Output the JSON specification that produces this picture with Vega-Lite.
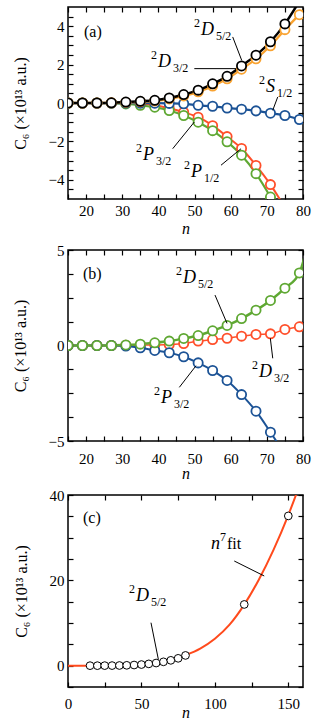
{
"$schema":"https://vega.github.io/schema/vega-lite/v6.json",
"padding":{"left":11,"top":5,"right":5,"bottom":5},
"spacing":5,
"resolve":{"scale":{"color":"independent","strokeWidth":"independent"}},
"config":{
 "font":"Liberation Serif",
 "view":{"stroke":"black","strokeWidth":1.5},
 "axis":{"labelFont":"Liberation Serif","labelFontSize":15,"labelColor":"black","titleFont":"Liberation Serif","titleFontSize":16,"titleFontWeight":"normal","titleColor":"black","domain":false,"grid":false,"tickColor":"black","tickSize":-5,"tickWidth":1.2,"labelPadding":9,"labelFlush":false,"labelOverlap":false,"minExtent":0},
 "text":{"font":"Liberation Serif","fill":"black","baseline":"alphabetic"}
},
"datasets":{
 "a":[
  {"s":"P1","n":15,"v":0},{"s":"P1","n":19,"v":0},{"s":"P1","n":23,"v":0},{"s":"P1","n":27,"v":0},{"s":"P1","n":31,"v":-0.01},{"s":"P1","n":35,"v":-0.05},{"s":"P1","n":39,"v":-0.12},{"s":"P1","n":43,"v":-0.27},{"s":"P1","n":47,"v":-0.48},{"s":"P1","n":51,"v":-0.74},{"s":"P1","n":55,"v":-1.18},{"s":"P1","n":59,"v":-1.75},{"s":"P1","n":63,"v":-2.37},{"s":"P1","n":67,"v":-3.25},{"s":"P1","n":71,"v":-4.25},{"s":"P1","n":75,"v":-5.45},
  {"s":"P3","n":15,"v":0},{"s":"P3","n":19,"v":0},{"s":"P3","n":23,"v":0},{"s":"P3","n":27,"v":-0.01},{"s":"P3","n":31,"v":-0.05},{"s":"P3","n":35,"v":-0.12},{"s":"P3","n":39,"v":-0.22},{"s":"P3","n":43,"v":-0.39},{"s":"P3","n":47,"v":-0.65},{"s":"P3","n":51,"v":-1.0},{"s":"P3","n":55,"v":-1.44},{"s":"P3","n":59,"v":-2.02},{"s":"P3","n":63,"v":-2.72},{"s":"P3","n":67,"v":-3.68},{"s":"P3","n":71,"v":-4.9},{"s":"P3","n":75,"v":-6.3},
  {"s":"S1","n":15,"v":0},{"s":"S1","n":19,"v":0},{"s":"S1","n":23,"v":0},{"s":"S1","n":27,"v":0},{"s":"S1","n":31,"v":0},{"s":"S1","n":35,"v":-0.01},{"s":"S1","n":39,"v":-0.01},{"s":"S1","n":43,"v":-0.02},{"s":"S1","n":47,"v":-0.04},{"s":"S1","n":51,"v":-0.12},{"s":"S1","n":55,"v":-0.17},{"s":"S1","n":59,"v":-0.26},{"s":"S1","n":63,"v":-0.32},{"s":"S1","n":67,"v":-0.41},{"s":"S1","n":71,"v":-0.53},{"s":"S1","n":75,"v":-0.65},{"s":"S1","n":79,"v":-0.86},{"s":"S1","n":83,"v":-1.2},
  {"s":"D3","n":15,"v":0},{"s":"D3","n":19,"v":0},{"s":"D3","n":23,"v":0},{"s":"D3","n":27,"v":0.01},{"s":"D3","n":31,"v":0.03},{"s":"D3","n":35,"v":0.06},{"s":"D3","n":39,"v":0.11},{"s":"D3","n":43,"v":0.21},{"s":"D3","n":47,"v":0.37},{"s":"D3","n":51,"v":0.58},{"s":"D3","n":55,"v":0.88},{"s":"D3","n":59,"v":1.26},{"s":"D3","n":63,"v":1.76},{"s":"D3","n":67,"v":2.3},{"s":"D3","n":71,"v":2.98},{"s":"D3","n":75,"v":3.82},{"s":"D3","n":79,"v":4.6},
  {"s":"D5","n":15,"v":0},{"s":"D5","n":19,"v":0},{"s":"D5","n":23,"v":0},{"s":"D5","n":27,"v":0.01},{"s":"D5","n":31,"v":0.05},{"s":"D5","n":35,"v":0.09},{"s":"D5","n":39,"v":0.14},{"s":"D5","n":43,"v":0.26},{"s":"D5","n":47,"v":0.44},{"s":"D5","n":51,"v":0.67},{"s":"D5","n":55,"v":1.0},{"s":"D5","n":59,"v":1.39},{"s":"D5","n":63,"v":1.93},{"s":"D5","n":67,"v":2.49},{"s":"D5","n":71,"v":3.19},{"s":"D5","n":75,"v":4.12},{"s":"D5","n":79,"v":5.3}
 ],
 "b":[
  {"s":"D3","n":15,"v":0},{"s":"D3","n":19,"v":0},{"s":"D3","n":23,"v":0},{"s":"D3","n":27,"v":0},{"s":"D3","n":31,"v":0.01},{"s":"D3","n":35,"v":0.02},{"s":"D3","n":39,"v":0.03},{"s":"D3","n":43,"v":0.05},{"s":"D3","n":47,"v":0.1},{"s":"D3","n":51,"v":0.23},{"s":"D3","n":55,"v":0.31},{"s":"D3","n":59,"v":0.38},{"s":"D3","n":63,"v":0.49},{"s":"D3","n":67,"v":0.58},{"s":"D3","n":71,"v":0.61},{"s":"D3","n":75,"v":0.84},{"s":"D3","n":79,"v":0.98},
  {"s":"P3","n":15,"v":0},{"s":"P3","n":19,"v":0},{"s":"P3","n":23,"v":0},{"s":"P3","n":27,"v":0},{"s":"P3","n":31,"v":-0.03},{"s":"P3","n":35,"v":-0.12},{"s":"P3","n":39,"v":-0.26},{"s":"P3","n":43,"v":-0.38},{"s":"P3","n":47,"v":-0.59},{"s":"P3","n":51,"v":-0.91},{"s":"P3","n":55,"v":-1.31},{"s":"P3","n":59,"v":-1.83},{"s":"P3","n":63,"v":-2.57},{"s":"P3","n":67,"v":-3.44},{"s":"P3","n":71,"v":-4.54},{"s":"P3","n":75,"v":-5.7},
  {"s":"D5","n":15,"v":0},{"s":"D5","n":19,"v":0},{"s":"D5","n":23,"v":0},{"s":"D5","n":27,"v":0},{"s":"D5","n":31,"v":0.03},{"s":"D5","n":35,"v":0.07},{"s":"D5","n":39,"v":0.14},{"s":"D5","n":43,"v":0.23},{"s":"D5","n":47,"v":0.37},{"s":"D5","n":51,"v":0.52},{"s":"D5","n":55,"v":0.77},{"s":"D5","n":59,"v":1.05},{"s":"D5","n":63,"v":1.41},{"s":"D5","n":67,"v":1.85},{"s":"D5","n":71,"v":2.36},{"s":"D5","n":75,"v":3.0},{"s":"D5","n":79,"v":3.8},{"s":"D5","n":83,"v":6.8}
 ],
 "c_pts":[
  {"n":15,"v":0},{"n":20,"v":0},{"n":25,"v":0.01},{"n":30,"v":0.02},{"n":35,"v":0.04},{"n":40,"v":0.08},{"n":45,"v":0.15},{"n":50,"v":0.26},{"n":55,"v":0.42},{"n":60,"v":0.62},{"n":65,"v":0.9},{"n":70,"v":1.25},{"n":75,"v":1.72},{"n":80,"v":2.4},{"n":120,"v":14.35},{"n":150,"v":35.1}
 ],
 "c_fit":[
  {"n":0,"v":0},{"n":10,"v":0},{"n":20,"v":0},{"n":30,"v":0.01},{"n":40,"v":0.06},{"n":50,"v":0.2},{"n":60,"v":0.55},{"n":70,"v":1.25},{"n":80,"v":2.45},{"n":90,"v":4.0},{"n":100,"v":6.3},{"n":110,"v":9.6},{"n":120,"v":14.3},{"n":130,"v":20.2},{"n":140,"v":27.2},{"n":150,"v":35.3},{"n":160,"v":44.5}
 ],
 "lead":[
  {"p":"a","n":60.56,"v":3.44,"n2":63.05,"v2":2.22},
  {"p":"a","n":49.94,"v":1.79,"n2":61.47,"v2":1.79},
  {"p":"a","n":73.0,"v":0.31,"n2":71.63,"v2":-0.38},
  {"p":"a","n":43.96,"v":-2.38,"n2":49.94,"v2":-0.99},
  {"p":"a","n":57.32,"v":-3.24,"n2":62.86,"v2":-2.38},
  {"p":"b","n":55.66,"v":2.64,"n2":58.98,"v2":1.16},
  {"p":"b","n":71.63,"v":-0.67,"n2":70.96,"v2":0.38},
  {"p":"b","n":45.79,"v":-2.19,"n2":50.41,"v2":-1.06},
  {"p":"c","n":113.2,"v":24.53,"n2":133.6,"v2":21.02},
  {"p":"c","n":56.5,"v":10.07,"n2":61.5,"v2":1.5}
 ],
 "ann":[
  {"p":"a","sup":"2","L":"D","sub":"5/2","n":51.79,"v":3.54},
  {"p":"a","sup":"2","L":"D","sub":"3/2","n":39.9,"v":1.875},
  {"p":"a","sup":"2","L":"S","sub":"1/2","n":69.77,"v":0.573},
  {"p":"a","sup":"2","L":"P","sub":"3/2","n":35.75,"v":-2.97},
  {"p":"a","sup":"2","L":"P","sub":"1/2","n":49.02,"v":-3.85},
  {"p":"b","sup":"2","L":"D","sub":"5/2","n":46.81,"v":3.27},
  {"p":"b","sup":"2","L":"D","sub":"3/2","n":67.84,"v":-1.65},
  {"p":"b","sup":"2","L":"P","sub":"3/2","n":40.73,"v":-3.01},
  {"p":"c","sup":"2","L":"D","sub":"5/2","n":46.3,"v":15.16}
 ],
 "plab":[
  {"p":"a","t":"(a)","n":19.43,"v":3.44},
  {"p":"b","t":"(b)","n":19.15,"v":3.48},
  {"p":"c","t":"(c)","n":10.2,"v":33.44}
 ],
 "fitlab":[{"n":97.3,"v":27.35}]
},
"vconcat":[
 {
  "width":235,"height":192,
  "resolve":{"axis":{"x":"independent","y":"independent"}},
  "layer":[
   {"data":{"name":"a"},"mark":{"type":"line","clip":true,"interpolate":"monotone"},
    "encoding":{
     "x":{"field":"n","type":"quantitative","scale":{"domain":[15,80],"nice":false,"zero":false},"axis":{"orient":"bottom","values":[15,20,25,30,35,40,45,50,55,60,65,70,75,80],"labelExpr":"datum.value % 10 == 0 ? format(datum.value, '~g') : ''","title":"n","titleFontStyle":"italic","titlePadding":2}},
     "y":{"field":"v","type":"quantitative","scale":{"domain":[-5,5],"nice":false},"axis":{"orient":"left","values":[-4.5,-4,-3.5,-3,-2.5,-2,-1.5,-1,-0.5,0,0.5,1,1.5,2,2.5,3,3.5,4,4.5],"labelExpr":"datum.value % 2 == 0 ? format(datum.value, '~g') : ''","title":"C₆  (×10¹³ a.u.)","titlePadding":20}},
     "color":{"field":"s","type":"nominal","scale":{"domain":["P1","P3","S1","D3","D5"],"range":["#FF4F2A","#5FA833","#1C5396","#F9A331","#000000"]},"legend":null},
     "strokeWidth":{"field":"s","type":"ordinal","scale":{"domain":["P1","P3","S1","D3","D5"],"range":[2,2.5,2,1.5,1]},"legend":null}
    }},
   {"data":{"name":"a"},"mark":{"type":"point","filled":false,"fill":"white","size":85,"strokeWidth":1.8,"opacity":1,"clip":true},
    "encoding":{
     "x":{"field":"n","type":"quantitative","axis":null},
     "y":{"field":"v","type":"quantitative","axis":null},
     "color":{"field":"s","type":"nominal","legend":null}
    }},
   {"data":{"name":"lead"},"transform":[{"filter":"datum.p == 'a'"}],"mark":{"type":"rule","color":"black","strokeWidth":1},
    "encoding":{"x":{"field":"n","type":"quantitative","axis":null},"y":{"field":"v","type":"quantitative","axis":null},"x2":{"field":"n2"},"y2":{"field":"v2"}}},
   {"data":{"name":"ann"},"transform":[{"filter":"datum.p == 'a'"}],"mark":{"type":"text","align":"right","dx":-1,"dy":-8,"fontSize":12},
    "encoding":{"x":{"field":"n","type":"quantitative","axis":null},"y":{"field":"v","type":"quantitative","axis":null},"text":{"field":"sup"}}},
   {"data":{"name":"ann"},"transform":[{"filter":"datum.p == 'a'"}],"mark":{"type":"text","align":"left","fontSize":18,"fontStyle":"italic"},
    "encoding":{"x":{"field":"n","type":"quantitative","axis":null},"y":{"field":"v","type":"quantitative","axis":null},"text":{"field":"L"}}},
   {"data":{"name":"ann"},"transform":[{"filter":"datum.p == 'a' && datum.L == 'D'"}],"mark":{"type":"text","align":"left","dx":15,"dy":5,"fontSize":12},
    "encoding":{"x":{"field":"n","type":"quantitative","axis":null},"y":{"field":"v","type":"quantitative","axis":null},"text":{"field":"sub"}}},
   {"data":{"name":"ann"},"transform":[{"filter":"datum.p == 'a' && datum.L == 'P'"}],"mark":{"type":"text","align":"left","dx":13,"dy":5,"fontSize":12},
    "encoding":{"x":{"field":"n","type":"quantitative","axis":null},"y":{"field":"v","type":"quantitative","axis":null},"text":{"field":"sub"}}},
   {"data":{"name":"ann"},"transform":[{"filter":"datum.p == 'a' && datum.L == 'S'"}],"mark":{"type":"text","align":"left","dx":11,"dy":5,"fontSize":12},
    "encoding":{"x":{"field":"n","type":"quantitative","axis":null},"y":{"field":"v","type":"quantitative","axis":null},"text":{"field":"sub"}}},
   {"data":{"name":"plab"},"transform":[{"filter":"datum.p == 'a'"}],"mark":{"type":"text","align":"left","fontSize":16},
    "encoding":{"x":{"field":"n","type":"quantitative","axis":null},"y":{"field":"v","type":"quantitative","axis":null},"text":{"field":"t"}}},
   {"data":{"name":"a"},"mark":{"type":"point","opacity":0,"clip":true},
    "encoding":{
     "x":{"field":"n","type":"quantitative","axis":{"orient":"top","labels":false,"title":null,"values":[15,20,25,30,35,40,45,50,55,60,65,70,75,80]}},
     "y":{"field":"v","type":"quantitative","axis":{"orient":"right","labels":false,"title":null,"values":[-4.5,-4,-3.5,-3,-2.5,-2,-1.5,-1,-0.5,0,0.5,1,1.5,2,2.5,3,3.5,4,4.5]}}
    }}
  ]
 },
 {
  "width":235,"height":191,
  "resolve":{"axis":{"x":"independent","y":"independent"}},
  "layer":[
   {"data":{"name":"b"},"mark":{"type":"line","clip":true,"interpolate":"monotone"},
    "encoding":{
     "x":{"field":"n","type":"quantitative","scale":{"domain":[15,80],"nice":false,"zero":false},"axis":{"orient":"bottom","values":[15,20,25,30,35,40,45,50,55,60,65,70,75,80],"labelExpr":"datum.value % 10 == 0 ? format(datum.value, '~g') : ''","title":"n","titleFontStyle":"italic","titlePadding":-1,"labelPadding":15}},
     "y":{"field":"v","type":"quantitative","scale":{"domain":[-5,5],"nice":false},"axis":{"orient":"left","values":[-5,-3.75,-2.5,-1.25,0,1.25,2.5,3.75,5],"labelExpr":"datum.value % 5 == 0 ? format(datum.value, '~g') : ''","title":"C₆  (×10¹³ a.u.)","titlePadding":20}},
     "color":{"field":"s","type":"nominal","scale":{"domain":["D3","P3","D5"],"range":["#FF4F2A","#1C5396","#5FA833"]},"legend":null},
     "strokeWidth":{"field":"s","type":"ordinal","scale":{"domain":["D3","P3","D5"],"range":[1.5,2.5,1.8]},"legend":null}
    }},
   {"data":{"name":"b"},"mark":{"type":"point","filled":false,"fill":"white","size":85,"strokeWidth":1.8,"opacity":1,"clip":true},
    "encoding":{
     "x":{"field":"n","type":"quantitative","axis":null},
     "y":{"field":"v","type":"quantitative","axis":null},
     "color":{"field":"s","type":"nominal","legend":null}
    }},
   {"data":{"name":"lead"},"transform":[{"filter":"datum.p == 'b'"}],"mark":{"type":"rule","color":"black","strokeWidth":1},
    "encoding":{"x":{"field":"n","type":"quantitative","axis":null},"y":{"field":"v","type":"quantitative","axis":null},"x2":{"field":"n2"},"y2":{"field":"v2"}}},
   {"data":{"name":"ann"},"transform":[{"filter":"datum.p == 'b'"}],"mark":{"type":"text","align":"right","dx":-1,"dy":-8,"fontSize":12},
    "encoding":{"x":{"field":"n","type":"quantitative","axis":null},"y":{"field":"v","type":"quantitative","axis":null},"text":{"field":"sup"}}},
   {"data":{"name":"ann"},"transform":[{"filter":"datum.p == 'b'"}],"mark":{"type":"text","align":"left","fontSize":18,"fontStyle":"italic"},
    "encoding":{"x":{"field":"n","type":"quantitative","axis":null},"y":{"field":"v","type":"quantitative","axis":null},"text":{"field":"L"}}},
   {"data":{"name":"ann"},"transform":[{"filter":"datum.p == 'b' && datum.L == 'D'"}],"mark":{"type":"text","align":"left","dx":15,"dy":5,"fontSize":12},
    "encoding":{"x":{"field":"n","type":"quantitative","axis":null},"y":{"field":"v","type":"quantitative","axis":null},"text":{"field":"sub"}}},
   {"data":{"name":"ann"},"transform":[{"filter":"datum.p == 'b' && datum.L == 'P'"}],"mark":{"type":"text","align":"left","dx":13,"dy":5,"fontSize":12},
    "encoding":{"x":{"field":"n","type":"quantitative","axis":null},"y":{"field":"v","type":"quantitative","axis":null},"text":{"field":"sub"}}},
   {"data":{"name":"plab"},"transform":[{"filter":"datum.p == 'b'"}],"mark":{"type":"text","align":"left","fontSize":16},
    "encoding":{"x":{"field":"n","type":"quantitative","axis":null},"y":{"field":"v","type":"quantitative","axis":null},"text":{"field":"t"}}},
   {"data":{"name":"b"},"mark":{"type":"point","opacity":0,"clip":true},
    "encoding":{
     "x":{"field":"n","type":"quantitative","axis":{"orient":"top","labels":false,"title":null,"values":[15,20,25,30,35,40,45,50,55,60,65,70,75,80]}},
     "y":{"field":"v","type":"quantitative","axis":{"orient":"right","labels":false,"title":null,"values":[-5,-3.75,-2.5,-1.25,0,1.25,2.5,3.75,5]}}
    }}
  ]
 },
 {
  "width":235,"height":192,
  "resolve":{"axis":{"x":"independent","y":"independent"}},
  "layer":[
   {"data":{"name":"c_fit"},"mark":{"type":"line","clip":true,"interpolate":"monotone","color":"#FF4A1C","strokeWidth":2},
    "encoding":{
     "x":{"field":"n","type":"quantitative","scale":{"domain":[0,160],"nice":false,"zero":false},"axis":{"orient":"bottom","values":[0,25,50,75,100,125,150],"labelExpr":"datum.value % 50 == 0 ? format(datum.value, '~g') : ''","title":"n","titleFontStyle":"italic","titlePadding":-7,"labelPadding":14}},
     "y":{"field":"v","type":"quantitative","scale":{"domain":[-5,40],"nice":false},"axis":{"orient":"left","values":[-5,0,5,10,15,20,25,30,35,40],"labelExpr":"datum.value % 20 == 0 ? format(datum.value, '~g') : ''","title":"C₆  (×10¹³ a.u.)","titlePadding":20}}
    }},
   {"data":{"name":"c_pts"},"mark":{"type":"point","filled":false,"fill":"white","color":"black","size":60,"strokeWidth":1,"opacity":1,"clip":true},
    "encoding":{
     "x":{"field":"n","type":"quantitative","axis":null},
     "y":{"field":"v","type":"quantitative","axis":null}
    }},
   {"data":{"name":"lead"},"transform":[{"filter":"datum.p == 'c'"}],"mark":{"type":"rule","color":"black","strokeWidth":1},
    "encoding":{"x":{"field":"n","type":"quantitative","axis":null},"y":{"field":"v","type":"quantitative","axis":null},"x2":{"field":"n2"},"y2":{"field":"v2"}}},
   {"data":{"name":"ann"},"transform":[{"filter":"datum.p == 'c'"}],"mark":{"type":"text","align":"right","dx":-1,"dy":-8,"fontSize":12},
    "encoding":{"x":{"field":"n","type":"quantitative","axis":null},"y":{"field":"v","type":"quantitative","axis":null},"text":{"field":"sup"}}},
   {"data":{"name":"ann"},"transform":[{"filter":"datum.p == 'c'"}],"mark":{"type":"text","align":"left","fontSize":18,"fontStyle":"italic"},
    "encoding":{"x":{"field":"n","type":"quantitative","axis":null},"y":{"field":"v","type":"quantitative","axis":null},"text":{"field":"L"}}},
   {"data":{"name":"ann"},"transform":[{"filter":"datum.p == 'c'"}],"mark":{"type":"text","align":"left","dx":15,"dy":5,"fontSize":12},
    "encoding":{"x":{"field":"n","type":"quantitative","axis":null},"y":{"field":"v","type":"quantitative","axis":null},"text":{"field":"sub"}}},
   {"data":{"name":"fitlab"},"mark":{"type":"text","align":"left","fontSize":18,"fontStyle":"italic","text":"n"},
    "encoding":{"x":{"field":"n","type":"quantitative","axis":null},"y":{"field":"v","type":"quantitative","axis":null}}},
   {"data":{"name":"fitlab"},"mark":{"type":"text","align":"left","fontSize":12,"dx":9,"dy":-8,"text":"7"},
    "encoding":{"x":{"field":"n","type":"quantitative","axis":null},"y":{"field":"v","type":"quantitative","axis":null}}},
   {"data":{"name":"fitlab"},"mark":{"type":"text","align":"left","fontSize":16,"dx":16,"text":"fit"},
    "encoding":{"x":{"field":"n","type":"quantitative","axis":null},"y":{"field":"v","type":"quantitative","axis":null}}},
   {"data":{"name":"plab"},"transform":[{"filter":"datum.p == 'c'"}],"mark":{"type":"text","align":"left","fontSize":16},
    "encoding":{"x":{"field":"n","type":"quantitative","axis":null},"y":{"field":"v","type":"quantitative","axis":null},"text":{"field":"t"}}},
   {"data":{"name":"c_pts"},"mark":{"type":"point","opacity":0,"clip":true},
    "encoding":{
     "x":{"field":"n","type":"quantitative","axis":{"orient":"top","labels":false,"title":null,"values":[0,25,50,75,100,125,150]}},
     "y":{"field":"v","type":"quantitative","axis":{"orient":"right","labels":false,"title":null,"values":[-5,0,5,10,15,20,25,30,35,40]}}
    }}
  ]
 }
]
}
